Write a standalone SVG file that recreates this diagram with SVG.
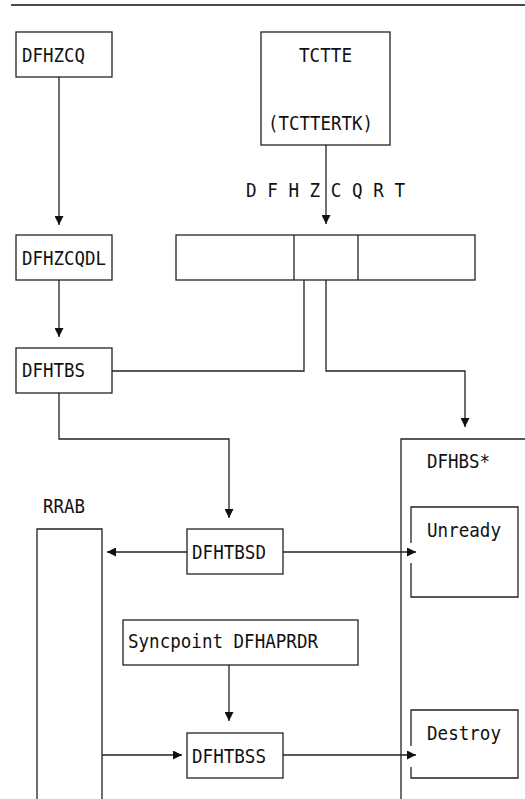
<svg xmlns="http://www.w3.org/2000/svg" width="525" height="799" viewBox="0 0 525 799">
<style>
.b{fill:#fff;stroke:#222;stroke-width:1.3}
.o{fill:none;stroke:#222;stroke-width:1.3}
.c{fill:none;stroke:#222;stroke-width:1.3}
.a{marker-end:url(#ah)}
text{font-family:"DejaVu Sans Mono","Liberation Mono",monospace;font-size:19.5px;fill:#111}
</style>
<defs>
<marker id="ah" viewBox="0 0 10 10" refX="10" refY="5" markerUnits="userSpaceOnUse" markerWidth="10" markerHeight="9" orient="auto">
<path d="M0,0 L10,5 L0,10 z" fill="#111"/>
</marker>
</defs>
<rect width="525" height="799" fill="#fff"/>
<line x1="11" y1="5" x2="525" y2="5" stroke="#111" stroke-width="1.5"/>
<g id="connectors">
<path class="c a" d="M59,77 V225"/>
<path class="c a" d="M59,280 V337"/>
<path class="c a" d="M326,145 V224"/>
<path class="c" d="M304,280 V371 H112"/>
<path class="c a" d="M326,280 V371 H465 V427"/>
<path class="c a" d="M59,393 V439 H229 V518"/>
<path class="c a" d="M187,552 H107"/>
<path class="c a" d="M283,552 H416"/>
<path class="c a" d="M229,665 V721"/>
<path class="c a" d="M102,755 H182"/>
<path class="c a" d="M283,755 H416"/>
</g>
<g id="dfhzcq"><rect class="b" x="16" y="32" width="96" height="45"/><text x="22" y="62" textLength="63" lengthAdjust="spacingAndGlyphs">DFHZCQ</text></g>
<g id="tctte"><rect class="b" x="261" y="32" width="129" height="113"/><text x="299" y="62" textLength="53" lengthAdjust="spacingAndGlyphs">TCTTE</text><text x="268" y="130" textLength="105" lengthAdjust="spacingAndGlyphs">(TCTTERTK)</text></g>
<g id="dfhzcqrt-label"><text x="246" y="197" xml:space="preserve" textLength="159" lengthAdjust="spacingAndGlyphs">D F H Z C Q R T</text></g>
<g id="dfhzcqdl"><rect class="b" x="16" y="235" width="96" height="45"/><text x="22" y="265" textLength="84" lengthAdjust="spacingAndGlyphs">DFHZCQDL</text></g>
<g id="table"><rect class="b" x="176" y="235" width="299" height="45"/><line class="o" x1="294" y1="235" x2="294" y2="280"/><line class="o" x1="358" y1="235" x2="358" y2="280"/></g>
<g id="dfhtbs"><rect class="b" x="16" y="348" width="96" height="45"/><text x="22" y="377" textLength="63" lengthAdjust="spacingAndGlyphs">DFHTBS</text></g>
<g id="dfhbs"><path class="o" d="M530,439 H401 V805"/><text x="427" y="468" textLength="63" lengthAdjust="spacingAndGlyphs">DFHBS*</text></g>
<g id="unready"><path class="o" d="M411,543 V507 H518 V597 H411 V563"/><text x="427" y="537" textLength="74" lengthAdjust="spacingAndGlyphs">Unready</text></g>
<g id="destroy"><path class="o" d="M411,746 V710 H518 V778 H411 V767"/><text x="427" y="740" textLength="74" lengthAdjust="spacingAndGlyphs">Destroy</text></g>
<g id="rrab"><path class="o" d="M37,805 V529 H102 V805"/><text x="43" y="513" textLength="42" lengthAdjust="spacingAndGlyphs">RRAB</text></g>
<g id="dfhtbsd"><rect class="b" x="187" y="529" width="96" height="45"/><text x="192" y="559" textLength="74" lengthAdjust="spacingAndGlyphs">DFHTBSD</text></g>
<g id="syncpoint"><rect class="b" x="123" y="620" width="235" height="45"/><text x="128" y="648" textLength="190" lengthAdjust="spacingAndGlyphs">Syncpoint DFHAPRDR</text></g>
<g id="dfhtbss"><rect class="b" x="187" y="733" width="96" height="45"/><text x="192" y="763" textLength="74" lengthAdjust="spacingAndGlyphs">DFHTBSS</text></g>
</svg>
